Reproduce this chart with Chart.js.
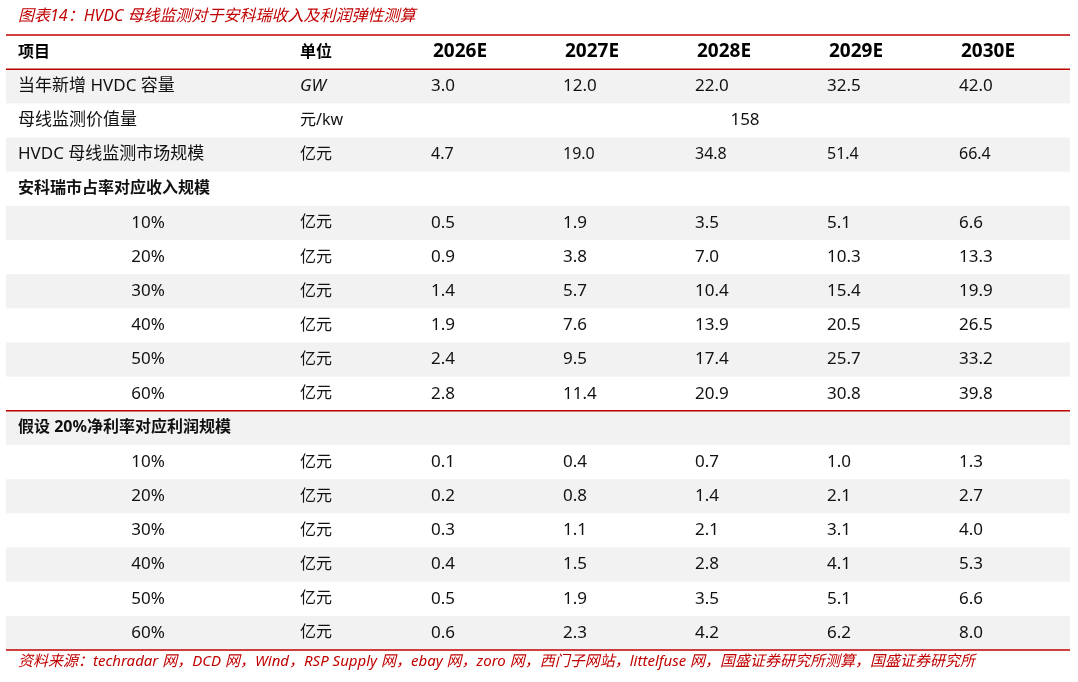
<!DOCTYPE html>
<html>
<head>
<meta charset="utf-8">
<script src="https://cdn.jsdelivr.net/npm/chart.js@4"></script>
<style>
  body { margin: 0; background: #fff; }
  #wrap { width: 1078px; height: 682px; position: relative; }
</style>
</head>
<body>
<div id="wrap"><canvas id="tbl"></canvas></div>
<script>
const years = ['2026E', '2027E', '2028E', '2029E', '2030E'];
const rowLabels = ['当年新增 HVDC 容量', '母线监测价值量', 'HVDC 母线监测市场规模', '安科瑞市占率对应收入规模',
  '10%', '20%', '30%', '40%', '50%', '60%', '假设 20%净利率对应利润规模',
  '10%', '20%', '30%', '40%', '50%', '60%'];
const units = ['GW', '元/kw', '亿元', '', '亿元', '亿元', '亿元', '亿元', '亿元', '亿元', '',
  '亿元', '亿元', '亿元', '亿元', '亿元', '亿元'];
const capacity = ['3.0', '12.0', '22.0', '32.5', '42.0'];
const pricePerKw = '158';
const marketSize = ['4.7', '19.0', '34.8', '51.4', '66.4'];
const revenue = [
  ['0.5', '1.9', '3.5', '5.1', '6.6'],
  ['0.9', '3.8', '7.0', '10.3', '13.3'],
  ['1.4', '5.7', '10.4', '15.4', '19.9'],
  ['1.9', '7.6', '13.9', '20.5', '26.5'],
  ['2.4', '9.5', '17.4', '25.7', '33.2'],
  ['2.8', '11.4', '20.9', '30.8', '39.8']
];
const profit = [
  ['0.1', '0.4', '0.7', '1.0', '1.3'],
  ['0.2', '0.8', '1.4', '2.1', '2.7'],
  ['0.3', '1.1', '2.1', '3.1', '4.0'],
  ['0.4', '1.5', '2.8', '4.1', '5.3'],
  ['0.5', '1.9', '3.5', '5.1', '6.6'],
  ['0.6', '2.3', '4.2', '6.2', '8.0']
];
const title = '图表14：HVDC 母线监测对于安科瑞收入及利润弹性测算';
const source = '资料来源：techradar 网，DCD 网，Wind，RSP Supply 网，ebay 网，zoro 网，西门子网站，littelfuse 网，国盛证券研究所测算，国盛证券研究所';

const rowKeys = ['header'].concat(rowLabels.map((_, i) => 'r' + i));
const cellValues = [capacity, null, marketSize, null].concat(revenue, [null], profit);

const RED = '#c00000';
const FONT = '"Noto Sans", "Noto Sans CJK SC", sans-serif';

const tablePlugin = {
  id: 'tablePlugin',
  beforeDraw(chart) {
    const { ctx, scales: { x, y } } = chart;
    const half = (y.getPixelForValue(1) - y.getPixelForValue(0)) / 2;
    const L = 6, R = 1070;
    ctx.save();
    // title
    ctx.fillStyle = RED;
    ctx.font = 'italic 16px ' + FONT;
    ctx.textBaseline = 'middle';
    ctx.fillText(title, 18, 16);
    // row bands
    rowLabels.forEach((_, i) => {
      if (i % 2 === 0) {
        const yc = y.getPixelForValue(i + 1);
        ctx.fillStyle = '#f2f2f2';
        ctx.fillRect(L, yc - half, R - L, half * 2);
      }
    });
    // red rules
    const rule = yy => { ctx.strokeStyle = RED; ctx.lineWidth = 1.5; ctx.beginPath(); ctx.moveTo(L, yy); ctx.lineTo(R, yy); ctx.stroke(); };
    rule(y.getPixelForValue(0) - half);
    rule(y.getPixelForValue(0) + half);
    rule(y.getPixelForValue(10) + half);
    rule(y.getPixelForValue(17) + half);

    // header
    const hy = y.getPixelForValue(0);
    ctx.fillStyle = '#000';
    ctx.font = 'bold 16px ' + FONT;
    ctx.textAlign = 'left';
    ctx.fillText('项目', 18, hy);
    ctx.fillText('单位', 300, hy);
    ctx.font = 'bold 19px ' + FONT;
    ctx.textAlign = 'center';
    years.forEach((yr, j) => ctx.fillText(yr, x.getPixelForValue(j), hy));

    // body
    rowLabels.forEach((lab, i) => {
      const yc = y.getPixelForValue(i + 1);
      const isPct = lab.endsWith('%') && lab.length <= 3;
      ctx.fillStyle = '#111';
      if (i === 3 || i === 10) {
        ctx.font = 'bold 16px ' + FONT;
        ctx.textAlign = 'left';
        ctx.fillText(lab, 18, yc);
      } else if (isPct) {
        ctx.font = '17px ' + FONT;
        ctx.textAlign = 'center';
        ctx.fillText(lab, 148, yc);
      } else {
        ctx.font = '17px ' + FONT;
        ctx.textAlign = 'left';
        ctx.fillText(lab, 18, yc);
      }
      ctx.textAlign = 'left';
      ctx.font = (i === 0 ? 'italic 17px ' : '16px ') + FONT;
      ctx.fillText(units[i], 300, yc);
      const vals = cellValues[i];
      ctx.font = (i === 2 ? '16px ' : '17px ') + FONT;
      if (vals) {
        vals.forEach((v, j) => ctx.fillText(v, x.getPixelForValue(j) - 29, yc));
      } else if (i === 1) {
        ctx.textAlign = 'center';
        ctx.fillText(pricePerKw, x.getPixelForValue(2) + 21, yc);
      }
    });

    // source
    ctx.fillStyle = RED;
    ctx.font = 'italic 15px ' + FONT;
    ctx.textAlign = 'left';
    ctx.fillText(source, 18, 662);
    ctx.restore();
  }
};

new Chart(document.getElementById('tbl'), {
  type: 'scatter',
  data: { labels: years, datasets: [{ data: [], pointRadius: 0 }] },
  options: {
    responsive: true,
    maintainAspectRatio: false,
    animation: false,
    layout: { padding: { top: 35, bottom: 32, left: 394, right: 24 } },
    plugins: { legend: { display: false }, tooltip: { enabled: false } },
    scales: {
      x: { type: 'category', labels: years, offset: true, display: false },
      y: { type: 'category', labels: rowKeys, offset: true, display: false }
    }
  },
  plugins: [tablePlugin]
});
</script>
</body>
</html>
